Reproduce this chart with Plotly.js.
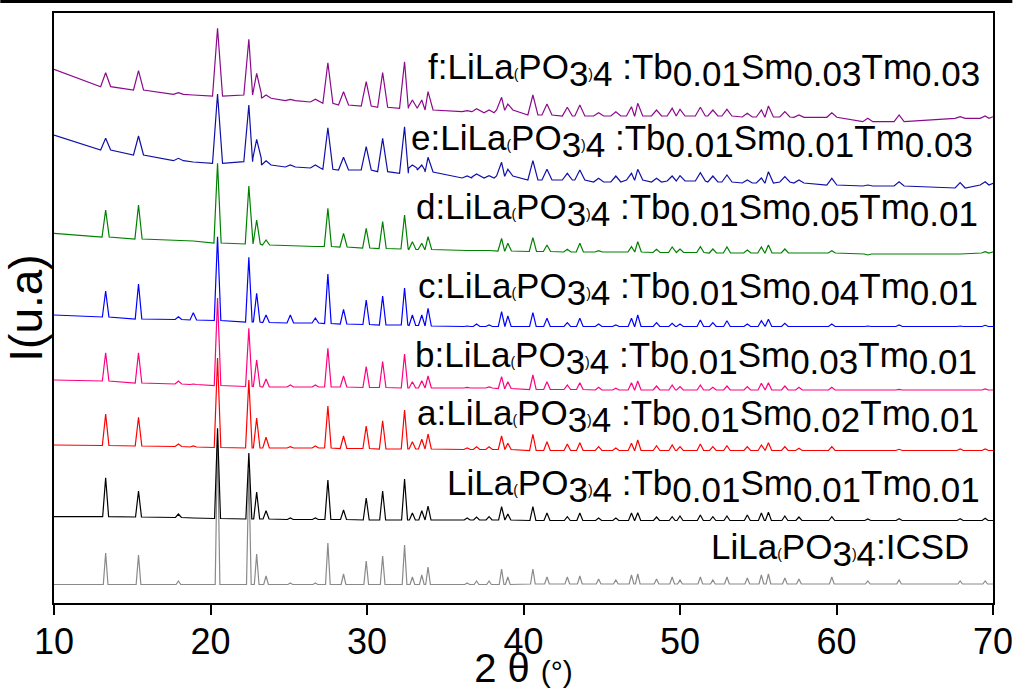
<!DOCTYPE html>
<html>
<head>
<meta charset="utf-8">
<script src="https://cdn.plot.ly/plotly-3.0.1.min.js"></script>
<style>html,body{margin:0;padding:0;background:#fff;}#chart{width:1018px;height:690px;}</style>
</head>
<body>
<div id="chart"></div>
<script>
// 2-theta positions of the reflections (degrees); first/last entries are the range ends
const twoTheta = [
  10, 13.3, 15.4, 17.95, 18.9, 20.45, 22.45, 22.95, 23.55, 25.1,
  26.7, 27.5, 28.5, 29.95, 31.0, 32.4, 32.9, 33.5, 33.9, 36.4,
  37.0, 37.8, 38.6, 39.0, 40.6, 41.5, 42.8, 43.6, 44.8, 45.9,
  46.9, 47.3, 48.5, 49.5, 50.0, 51.3, 52.1, 53.0, 54.3, 55.2,
  55.65, 56.7, 57.6, 59.7, 62.0, 64.0, 67.9, 69.5, 70
];

// Stacked intensities (arbitrary units): apex and local background
const icsdPeak = [18.5, 50, 48, 22, 18.5, 163, 133, 49, 27, 20,
  20, 60, 29, 42, 47, 58, 26, 28, 36, 20,
  22, 22, 34, 26, 34, 26, 26, 27, 24, 23,
  28, 29, 24, 26, 23, 26, 23, 26, 25, 28,
  29, 25, 24, 26, 22, 23, 22, 22, 19];
const icsdBase = [18.5, 18.5, 18.5, 18.5, 18.5, 18.5, 18.5, 18.5, 18.5, 18.5,
  18.5, 18.5, 18.5, 18.5, 18.5, 18.5, 18.5, 18.5, 18.5, 18.5,
  18.5, 18.5, 18.5, 18.5, 19, 19, 19, 19, 19, 19,
  19, 19, 19, 19, 19, 19, 19, 19, 19, 19,
  19, 19, 19, 19, 19, 19, 19, 19, 19];

const s0Peak = [86.3, 125.3, 112, 89, 85, 174.7, 150, 111, 92.3, 85,
  85, 123, 93, 105, 112, 124, 90, 92.3, 97, 85,
  86, 86.3, 96.3, 89, 96.3, 90, 86.3, 90, 85, 85,
  90, 90.3, 86, 86.3, 87, 88, 86.3, 87, 88, 90,
  90.7, 87, 86, 86.3, 84, 84.3, 84.3, 84.7, 83];
const s0Base = [86.3, 86.3, 86, 85.5, 85, 84.5, 84, 84, 84, 83.5,
  83.5, 83.5, 83.5, 83, 83, 83, 83, 83, 83, 83,
  83, 83, 83, 83, 82.5, 82.5, 82.5, 82.5, 82.5, 82.5,
  82.5, 82.5, 82.5, 82.5, 82.5, 82.5, 82.5, 82.5, 82.5, 82.5,
  82.5, 82.5, 82.5, 82.5, 82.5, 82.5, 82.5, 82.5, 82.5];

const aPeak = [158, 189, 185.7, 159, 157, 245, 223, 185, 165.7, 156.3,
  157, 197, 167, 177, 182.3, 193, 161.3, 163.7, 169, 155,
  156.3, 156.3, 167, 159.7, 168.7, 161.3, 159, 160.3, 156.3, 155,
  159.7, 163, 157.3, 158, 156.3, 159, 156.3, 157.3, 156.3, 158,
  160.3, 156.3, 154.7, 156.3, 153, 153.7, 154, 154, 152.5];
const aBase = [158, 157.5, 157, 156.5, 156, 155.5, 155, 155, 155, 155,
  155, 155, 154.5, 154.5, 154, 154, 154, 154, 154, 153.5,
  153.5, 153.5, 153.5, 153.5, 152.5, 152.5, 152.5, 152.5, 152.5, 152.5,
  152.5, 152.5, 152.5, 152.5, 152.5, 152.5, 152.5, 152.5, 152.5, 152.5,
  152.5, 152.5, 152.5, 152.5, 152.5, 152.5, 152.5, 152.5, 152.5];

const bPeak = [223, 250.3, 250.3, 222, 219, 305, 274.7, 243, 224, 218,
  218, 254.7, 227, 236.3, 241.3, 249, 221.3, 222.3, 227, 215.7,
  215.7, 216, 226.3, 221.3, 228, 221.3, 218, 220.3, 215.7, 214.7,
  220.3, 222, 217, 218, 216.3, 218, 215.7, 217, 216.3, 219.7,
  220.3, 217, 215.7, 215.7, 212.3, 213.7, 213, 214, 213.5];
const bBase = [223, 222, 220, 219, 218.5, 217.5, 216.5, 216.5, 216, 216,
  216, 216, 216, 215.5, 215.5, 215, 215, 215, 215, 215,
  215, 215, 214.5, 214.5, 213.5, 213.5, 213.5, 213.5, 213, 213,
  213, 213, 213, 213, 213, 213, 213, 213, 213, 213,
  213, 213, 213, 213, 213, 213, 213, 213, 213];

const cPeak = [288, 312, 319, 286.3, 290.3, 366.3, 345.7, 309.7, 288, 288,
  285, 329, 293.7, 303, 307, 315, 288, 288, 294.7, 277,
  279, 278, 291.3, 287, 290.3, 284.7, 280.3, 284.7, 279, 278,
  284.7, 288, 280.3, 279.7, 279, 283, 280.3, 282.3, 279, 282.3,
  283.7, 279.7, 277, 279, 277, 278, 277, 277.7, 276.5];
const cBase = [288, 286, 284, 283.5, 283, 282.5, 281, 281, 280.5, 280,
  280, 279.5, 279, 278.5, 278, 278, 277.5, 277.5, 277, 276.5,
  276.5, 276.5, 276.5, 276.5, 276.5, 276.5, 276.5, 276.5, 276.5, 276.5,
  276.5, 276.5, 276.5, 276.5, 276.5, 276.5, 276.5, 276.5, 276.5, 276.5,
  276.5, 276.5, 276.5, 276.5, 276.5, 276.5, 276.5, 276.5, 276.5];

const dPeak = [369.7, 393, 398, 363, 362, 439.7, 417, 383, 363, 357,
  356.5, 394.7, 369.7, 374.7, 381.3, 388, 361.3, 359.7, 366.3, 352.5,
  353, 352.5, 364.7, 359.7, 365.3, 358, 353.7, 359.7, 352.3, 351.5,
  356.3, 361.3, 353.7, 356, 354, 356.3, 354, 356, 353, 356,
  358, 354, 350.3, 352.3, 348, 349.7, 349, 351.3, 351];
const dBase = [369.7, 366, 364, 363, 362, 360, 359, 359, 358, 357,
  356.5, 356.5, 356, 355, 354.5, 354, 353.5, 353.5, 353.5, 352.5,
  352.5, 352.5, 352, 352, 351.5, 351.5, 351, 351, 351, 351,
  351, 351, 350.5, 350.5, 350.5, 350.5, 350, 350, 350, 350,
  350, 350, 350, 350, 349, 349, 349, 350, 351];

const ePeak = [468, 464.7, 467, 444.7, 441, 509, 498, 463.7, 442.3, 438,
  438, 475.3, 445.7, 456.3, 464.7, 476.3, 438, 438, 445.7, 427,
  429, 427.3, 440.7, 433.7, 442.3, 433.7, 429.7, 433, 424.7, 427,
  429.7, 433.7, 424.7, 427, 427.3, 430.3, 427, 428, 423, 425,
  431.3, 426.3, 423, 424.7, 418, 421.3, 420.3, 421.3, 419.7];
const eBase = [468, 453, 448, 442.3, 441, 439.7, 441.3, 445, 438, 436,
  435, 433.7, 433, 433, 431.3, 429.7, 435, 433, 431, 425,
  426, 425, 427, 427, 423, 423, 423, 423, 421, 421,
  423, 423, 421, 422, 422, 422, 421, 421, 420, 420,
  420, 421, 420, 418, 417, 417, 415, 418, 419.7];

const fPeak = [533.7, 530.3, 532.3, 510.3, 508, 574.7, 563.7, 529.7, 508, 503.7,
  503.7, 540.3, 511.3, 521.3, 530.3, 541.3, 503, 503, 511.3, 492.3,
  494.3, 493, 505.7, 499, 508, 499, 495.7, 498, 490.3, 491.3,
  496.3, 499.7, 493, 494.7, 493.7, 495.7, 493, 493.7, 489.7, 493,
  497, 491.3, 488, 490.3, 484.7, 488, 486.3, 487, 486.3];
const fBase = [533.7, 516.3, 513, 508.7, 508, 507, 508, 510, 504.7, 502.3,
  501, 499.7, 498, 497, 495.7, 494.7, 496.3, 494.7, 493, 491.3,
  491.3, 490.3, 493, 493, 488, 488, 487, 487, 487, 487,
  487, 487, 487, 487, 487, 487, 487, 487, 486, 486,
  486, 486, 485.7, 485.7, 481.3, 481.3, 484.7, 484.7, 486.3];

// Dopant fractions shown in the labels
const labelPrefix = ['f:', 'e:', 'd:', 'c:', 'b:', 'a:', ''];
const smFrac = ['0.03', '0.01', '0.05', '0.04', '0.03', '0.02', '0.01'];
const tmFrac = ['0.03', '0.03', '0.01', '0.01', '0.01', '0.01', '0.01'];

// ---- build the polylines (background - apex - background per reflection) ----
function profile(peak, base, hw) {
  const xs = [], ys = [];
  for (let i = 0; i < twoTheta.length; i++) {
    const p = twoTheta[i];
    if (peak[i] === base[i] || i === 0 || i === twoTheta.length - 1) {
      xs.push(p); ys.push(base[i]); continue;
    }
    const wl = Math.min(hw, (p - twoTheta[i - 1]) / 2 - 0.01);
    const wr = Math.min(hw, (twoTheta[i + 1] - p) / 2 - 0.01);
    xs.push(p - wl, p, p + wr);
    ys.push(base[i], peak[i], base[i]);
  }
  return {xs, ys};
}

const series = [
  {peak: icsdPeak, base: icsdBase, hw: 0.15, color: '#8a8a8a'},
  {peak: s0Peak, base: s0Base, hw: 0.19, color: '#000000'},
  {peak: aPeak, base: aBase, hw: 0.21, color: '#ff0000'},
  {peak: bPeak, base: bBase, hw: 0.21, color: '#ff0080'},
  {peak: cPeak, base: cBase, hw: 0.21, color: '#0000ff'},
  {peak: dPeak, base: dBase, hw: 0.23, color: '#008000'},
  {peak: ePeak, base: eBase, hw: 0.32, color: '#1010a8'},
  {peak: fPeak, base: fBase, hw: 0.32, color: '#8b0a8b'}
];

const traces = series.map(s => {
  const pr = profile(s.peak, s.base, s.hw);
  return {x: pr.xs, y: pr.ys, type: 'scatter', mode: 'lines',
          line: {color: s.color, width: 1.2}, hoverinfo: 'skip', showlegend: false};
});

// ---- labels ----
const FS = 35;
const SUB = t => `<sub><span style="font-size:${FS}px">${t}</span></sub>`;
const PAR = t => `<span style="font-size:14px">${t}</span>`;
const formula = `LiLa${PAR('(')}PO${SUB('3')}${PAR(')')}${SUB('4')}`;
const labelText = labelPrefix.map((p, i) =>
  `${p}${formula} :Tb${SUB('0.01')}Sm${SUB(smFrac[i])}Tm${SUB(tmFrac[i])}`);
labelText.push(`${formula}:ICSD`);

const labX = [69.3, 68.87, 69.14, 69.19, 69.08, 69.25, 69.3, 68.6];
const labY = [508, 437, 368, 289, 220, 162.5, 92, 28];
const annotations = labelText.map((t, i) => ({
  text: t, x: labX[i], y: labY[i], xref: 'x', yref: 'y',
  xanchor: 'right', yanchor: 'bottom', showarrow: false,
  font: {family: 'Arial, "Liberation Sans", sans-serif', size: FS, color: '#000'}
}));

const layout = {
  width: 1018, height: 690,
  margin: {l: 53.7, r: 25.3, t: 13, b: 87, pad: 0},
  paper_bgcolor: '#fff', plot_bgcolor: '#fff',
  font: {family: 'Arial, "Liberation Sans", sans-serif', color: '#000'},
  xaxis: {
    range: [10, 70], tickvals: [10, 20, 30, 40, 50, 60, 70],
    ticks: 'outside', ticklen: 10, tickwidth: 2, tickcolor: '#000',
    ticklabelstandoff: -4,
    showline: true, linewidth: 2, linecolor: '#000', mirror: true,
    showgrid: false, zeroline: false,
    tickfont: {size: 36, color: '#000'},
    title: {text: '2 θ <span style="font-size:30px">(°)</span>', font: {size: 40, color: '#000'}, standoff: 0},
    automargin: false
  },
  yaxis: {
    range: [0, 590], showticklabels: false, ticks: '',
    showline: true, linewidth: 2, linecolor: '#000', mirror: true,
    showgrid: false, zeroline: false,
    title: {text: 'I(u.a)', font: {size: 46, color: '#000'}, standoff: 0},
    automargin: false
  },
  annotations: annotations,
  shapes: [{type: 'line', xref: 'paper', yref: 'paper',
            x0: -0.0572, x1: 1.0206, y0: 1.0195, y1: 1.0195,
            line: {color: '#000', width: 3}}]
};

Plotly.newPlot('chart', traces, layout, {staticPlot: true, displayModeBar: false});
</script>
</body>
</html>
